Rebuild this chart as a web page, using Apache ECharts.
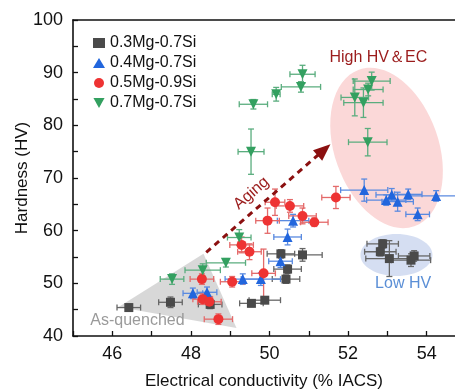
<!DOCTYPE html>
<html><head><meta charset="utf-8">
<script src="https://cdn.jsdelivr.net/npm/echarts@6/dist/echarts.min.js"></script>
<style>html,body{margin:0;padding:0;background:#fff}#c{width:455px;height:392px}</style>
</head><body><div id="c"></div>
<script>
const seriesNames = ['0.3Mg-0.7Si','0.4Mg-0.7Si','0.5Mg-0.9Si','0.7Mg-0.7Si'];
// 0.3Mg-0.7Si
const grayX = [46.42,47.48,48.49,49.54,49.88,50.42,50.46,50.29,50.84,52.88,52.82,53.05,53.60,53.68];
const grayY = [45.4,46.4,46.0,46.2,46.8,50.8,52.7,55.6,55.4,57.5,56.0,54.7,54.4,55.2];
const grayXe = [0.3,0.3,0.3,0.3,0.4,0.35,0.35,0.35,0.5,0.4,0.4,0.6,0.5,0.4];
const grayYe = [0.6,1.0,0.8,0.6,0.6,0.8,0.8,0.8,1.2,0.8,0.8,3.4,1.2,1.0];
// 0.4Mg-0.7Si
const blueX = [48.05,48.41,49.32,49.78,50.28,50.46,50.60,52.41,52.97,53.11,53.26,53.53,54.24,53.77];
const blueY = [48.1,48.3,50.8,50.8,54.2,58.8,61.9,67.7,65.8,66.8,65.5,66.9,66.6,63.1];
const blueXe = [0.25,0.25,0.45,0.5,0.3,0.35,0.4,0.6,0.5,0.4,0.4,0.35,0.7,0.3];
const blueYe = [1.0,1.0,1.0,1.2,1.2,1.5,1.2,2.1,1.0,1.2,1.8,1.0,1.0,1.2];
// 0.5Mg-0.9Si
const redX = [48.28,48.30,48.47,48.70,49.05,49.29,49.49,49.85,49.95,50.14,50.52,50.84,51.14,51.69];
const redY = [50.8,47.0,46.5,43.2,50.3,57.3,56.0,51.9,61.9,65.4,64.7,62.8,61.6,66.3];
const redXe = [0.3,0.25,0.3,0.36,0.3,0.3,0.3,0.3,0.3,0.25,0.35,0.35,0.35,0.36];
const redYe = [1.0,1.0,1.0,1.0,1.0,1.5,1.5,4.6,2.4,2.5,1.2,1.5,0.8,2.1];
// 0.7Mg-0.7Si
const greenX = [47.52,48.30,48.89,49.23,49.53,49.59,50.17,50.80,50.84,52.17,52.39,52.51,52.60,52.50];
const greenY = [50.8,52.5,53.9,58.7,75.0,84.0,85.9,87.3,89.7,85.3,84.3,86.8,88.4,76.8];
const greenXe = [0.3,0.45,0.5,0.3,0.33,0.36,0.1,0.5,0.32,0.35,0.5,0.38,0.47,0.49];
const greenYe = [1.0,1.2,0.8,1.5,4.3,0.9,1.3,1.0,1.7,3.5,2.8,1.2,1.7,2.6];

const xTicks = [46,48,50,52,54];
const yTicks = [40,50,60,70,80,90,100];

const colors = ['#4a4a4a','#2266dd','#ee3333','#33a060'];
const errColors = ['#666666','#5a8ae0','#e46a6a','#5aad7e'];
const symbols = ['rect','triangle','circle','path://M0,0 L10,0 L5,9 Z'];
const sizes = [9,10,10,10];

const groups = [
  [grayX,grayY,grayXe,grayYe],
  [blueX,blueY,blueXe,blueYe],
  [redX,redY,redXe,redYe],
  [greenX,greenY,greenXe,greenYe]
];

const series = [];
groups.forEach((g,i)=>{
  const data = g[0].map((x,k)=>[x,g[1][k],g[2][k],g[3][k]]);
  series.push({
    type:'custom', name:'err'+i, z:3,
    clip:true,
    renderItem:(params,api)=>{
      const x=api.value(0), y=api.value(1), xe=api.value(2), ye=api.value(3);
      const l=api.coord([x-xe,y]), r=api.coord([x+xe,y]);
      const t=api.coord([x,y+ye]), b=api.coord([x,y-ye]);
      const c=3;
      const st={stroke:errColors[i],lineWidth:1.3};
      return {type:'group',children:[
        {type:'line',shape:{x1:l[0],y1:l[1],x2:r[0],y2:r[1]},style:st},
        {type:'line',shape:{x1:l[0],y1:l[1]-c,x2:l[0],y2:l[1]+c},style:st},
        {type:'line',shape:{x1:r[0],y1:r[1]-c,x2:r[0],y2:r[1]+c},style:st},
        {type:'line',shape:{x1:t[0],y1:t[1],x2:b[0],y2:b[1]},style:st},
        {type:'line',shape:{x1:t[0]-c,y1:t[1],x2:t[0]+c,y2:t[1]},style:st},
        {type:'line',shape:{x1:b[0]-c,y1:b[1],x2:b[0]+c,y2:b[1]},style:st}
      ]};
    },
    encode:{x:0,y:1},
    data:data
  });
  series.push({
    type:'scatter', name:seriesNames[i], z:4,
    symbol:symbols[i], symbolSize:sizes[i],
    itemStyle:{color:colors[i],opacity:1},
    data:g[0].map((x,k)=>[x,g[1][k]])
  });
});

const chart = echarts.init(document.getElementById('c'),null,{renderer:'canvas'});
const axisFont = {fontFamily:'Liberation Sans, Arial, sans-serif',fontSize:18,color:'#111'};
const nameFont = {fontFamily:'Liberation Sans, Arial, sans-serif',fontSize:17,color:'#111'};
chart.setOption({
  animation:false,
  grid:{left:73,right:0,top:20,bottom:56,containLabel:false,outerBoundsMode:'none'},
  legend:{
    data:seriesNames, orient:'vertical', left:88, top:30,
    itemWidth:12, itemHeight:10, itemGap:4,
    textStyle:{fontFamily:'Liberation Sans, Arial, sans-serif',fontSize:16,color:'#111',padding:[0,0,0,0]},
    selectedMode:false
  },
  xAxis:[{
    type:'value', min:45, max:54.72, interval:1,
    name:'Electrical conductivity (% IACS)', nameLocation:'middle', nameGap:37, nameMoveOverlap:false,
    nameTextStyle:nameFont,
    axisLine:{show:true,onZero:false,lineStyle:{color:'#111',width:1.6}},
    axisTick:{show:true,inside:true,length:5,lineStyle:{color:'#111',width:1.3}},
    axisLabel:{...axisFont,margin:9,showMaxLabel:false,formatter:v=>xTicks.includes(v)?String(v):''},
    splitLine:{show:false}
  },{
    type:'value', position:'top', min:45, max:54.72,
    axisLine:{show:true,onZero:false,lineStyle:{color:'#111',width:1.6}},
    axisTick:{show:false}, axisLabel:{show:false}, splitLine:{show:false}
  }],
  yAxis:{
    type:'value', min:40, max:100, interval:5,
    name:'Hardness (HV)', nameLocation:'middle', nameGap:42, nameMoveOverlap:false,
    nameTextStyle:nameFont,
    axisLine:{show:true,onZero:false,lineStyle:{color:'#111',width:1.6}},
    axisTick:{show:true,inside:true,length:5,lineStyle:{color:'#111',width:1.3}},
    axisLabel:{...axisFont,margin:10,formatter:v=>yTicks.includes(v)?String(v):''},
    splitLine:{show:false}
  },
  series:series
});

// annotations in data coordinates
const pinkCenter=[52.98,75.7], blueCenter=[53.23,55.4];
const triPts=[[46.16,45.5],[48.32,55.6],[49.16,41.5]];
const arrowFrom=[48.39,55.9], arrowTo=[51.55,76.4];
const labels=[
  {text:'High HV\uFF06EC',pos:[52.77,92.9],color:'#9b1c1c',rot:0},
  {text:'Low HV',pos:[53.40,49.9],color:'#5b8fd6',rot:0},
  {text:'As-quenched',pos:[46.64,43.0],color:'#9a9a9a',rot:0},
  {text:'Aging',pos:[49.54,67.1],color:'#9b1c1c',rot:41}
];
const P=p=>chart.convertToPixel({gridIndex:0},p);
const pc=P(pinkCenter), bc=P(blueCenter);
const a0=P(arrowFrom), a1=P(arrowTo);
const dx=a1[0]-a0[0], dy=a1[1]-a0[1], len=Math.hypot(dx,dy), ux=dx/len, uy=dy/len;
const hl=17, hw=7;
const base=[a1[0]-ux*hl,a1[1]-uy*hl];
const graphics=[
  {type:'ellipse',z:1,shape:{cx:pc[0],cy:pc[1],rx:52,ry:83},originX:pc[0],originY:pc[1],x:0,y:0,
    rotation:0.34,style:{fill:'rgba(248,190,190,0.6)'}},
  {type:'ellipse',z:1,shape:{cx:bc[0],cy:bc[1],rx:36,ry:21},style:{fill:'rgba(190,205,235,0.65)'}},
  {type:'polygon',z:1,shape:{points:triPts.map(P)},style:{fill:'rgba(200,200,200,0.7)'}},
  {type:'line',z:5,shape:{x1:a0[0],y1:a0[1],x2:base[0]+ux*2,y2:base[1]+uy*2},
    style:{stroke:'#8b1010',lineWidth:3,lineDash:[6,5]}},
  {type:'polygon',z:5,shape:{points:[a1,[base[0]-uy*hw,base[1]+ux*hw],[base[0]+uy*hw,base[1]-ux*hw]]},
    style:{fill:'#8b1010'}}
];
labels.forEach(l=>{
  const p=P(l.pos);
  graphics.push({type:'text',z:6,x:p[0],y:p[1],rotation:l.rot*Math.PI/180,
    style:{text:l.text,fill:l.color,font:'16px "Liberation Sans", Arial, sans-serif',
      textAlign:'center',textVerticalAlign:'middle'}});
});
chart.setOption({graphic:graphics});
</script>
</body></html>
